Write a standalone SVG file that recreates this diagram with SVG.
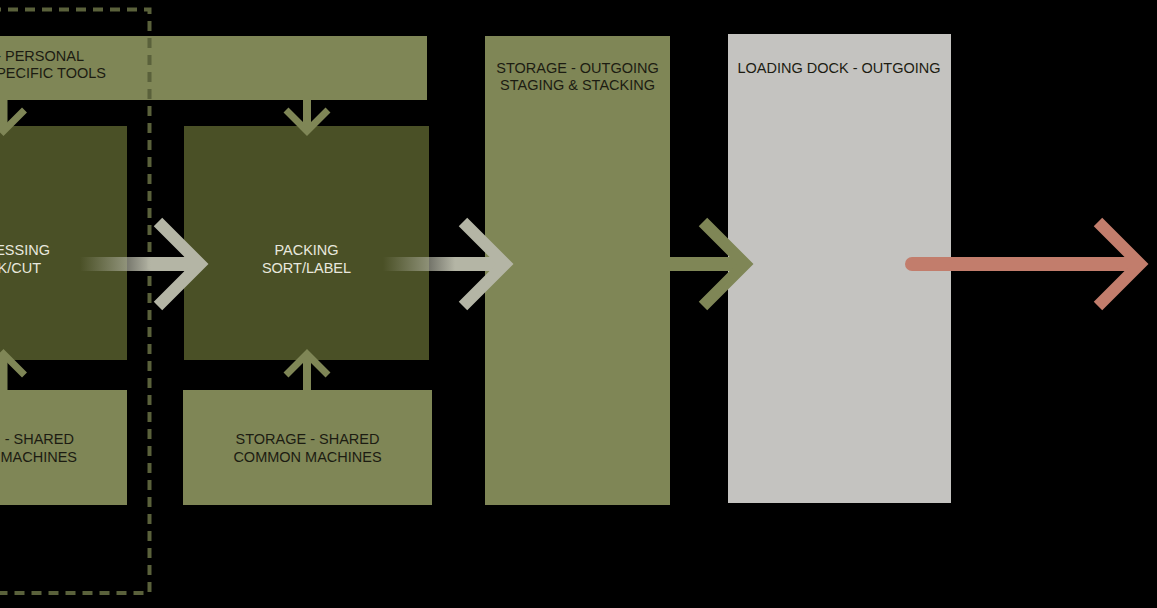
<svg xmlns="http://www.w3.org/2000/svg" width="1157" height="608" viewBox="0 0 1157 608">
<defs>
<style>
.light{fill:#7f8656}
.dark{fill:#4a5026}
.dock{fill:#c4c3c0}
.t{font-family:"Liberation Sans",Arial,sans-serif;font-size:14.5px;fill:#1c1c12}
.tl{font-family:"Liberation Sans",Arial,sans-serif;font-size:14.5px;fill:#e8e8de}
.chev{fill:none;stroke-width:12;stroke-linejoin:miter;stroke-miterlimit:4}
.vchev{fill:none;stroke:#7f8656;stroke-width:7;stroke-linejoin:miter;stroke-miterlimit:4}
.vshaft{stroke:#7f8656;stroke-width:8}
</style>
<linearGradient id="fade" x1="0" y1="0" x2="1" y2="0">
<stop offset="0" stop-color="#b4b5a5" stop-opacity="0"/>
<stop offset="0.6" stop-color="#b4b5a5" stop-opacity="1"/>
<stop offset="1" stop-color="#b4b5a5" stop-opacity="1"/>
</linearGradient>
</defs>
<rect width="1157" height="608" fill="#000"/>

<g id="top-bar">
<rect class="light" x="-10" y="36" width="437" height="64"/>
<text class="t" x="84" y="61" text-anchor="end">- PERSONAL</text>
<text class="t" x="106" y="78" text-anchor="end">PECIFIC TOOLS</text>
</g>

<g id="processing">
<rect class="dark" x="-10" y="126" width="137" height="234"/>
<text class="tl" x="50" y="255" text-anchor="end">ESSING</text>
<text class="tl" x="41" y="272.5" text-anchor="end">K/CUT</text>
</g>

<g id="packing">
<rect class="dark" x="184" y="126" width="245" height="234"/>
<text class="tl" x="306.5" y="255" text-anchor="middle">PACKING</text>
<text class="tl" x="306.5" y="272.5" text-anchor="middle">SORT/LABEL</text>
</g>

<g id="storage-shared-left">
<rect class="light" x="-10" y="390" width="137" height="115"/>
<text class="t" x="74" y="444" text-anchor="end">- SHARED</text>
<text class="t" x="77" y="461.5" text-anchor="end">MACHINES</text>
</g>

<g id="storage-shared">
<rect class="light" x="183" y="390" width="249" height="115"/>
<text class="t" x="307.5" y="444" text-anchor="middle">STORAGE - SHARED</text>
<text class="t" x="307.5" y="461.5" text-anchor="middle">COMMON MACHINES</text>
</g>

<g id="storage-outgoing">
<rect class="light" x="485" y="36" width="185" height="469"/>
<text class="t" x="577.5" y="72.5" text-anchor="middle">STORAGE - OUTGOING</text>
<text class="t" x="577.5" y="90" text-anchor="middle">STAGING &amp; STACKING</text>
</g>

<g id="loading-dock">
<rect class="dock" x="728" y="34" width="223" height="469"/>
<text class="t" x="839" y="72.5" text-anchor="middle">LOADING DOCK - OUTGOING</text>
</g>

<g id="group-boundary">
<rect x="-60" y="9.5" width="209.5" height="583.5" fill="none" stroke="#5a613b" stroke-width="4" stroke-dasharray="10 7"/>
</g>

<g id="connectors">
<line class="vshaft" x1="3.5" y1="100" x2="3.5" y2="128"/>
<polyline class="vchev" points="-17.5,110 3.5,131 24.5,110"/>
<line class="vshaft" x1="307" y1="100" x2="307" y2="128"/>
<polyline class="vchev" points="286,110 307,131 328,110"/>
<line class="vshaft" x1="3.5" y1="390" x2="3.5" y2="357"/>
<polyline class="vchev" points="-17.5,375 3.5,354 24.5,375"/>
<line class="vshaft" x1="307" y1="390" x2="307" y2="357"/>
<polyline class="vchev" points="286,375 307,354 328,375"/>

<rect x="80" y="257" width="118" height="14" fill="url(#fade)"/>
<polyline class="chev" stroke="#b4b5a5" points="158,222 200,264 158,306"/>
<rect x="383" y="257" width="120" height="14" fill="url(#fade)"/>
<polyline class="chev" stroke="#b4b5a5" points="463,222 505,264 463,306"/>

<line x1="670" y1="264" x2="742" y2="264" stroke="#7f8656" stroke-width="14"/>
<polyline class="chev" stroke="#7f8656" points="703,222 745,264 703,306"/>

<line x1="912" y1="264" x2="1137" y2="264" stroke="#c27d6c" stroke-width="14" stroke-linecap="round"/>
<polyline class="chev" stroke="#c27d6c" points="1098,222 1140,264 1098,306"/>
</g>
</svg>
